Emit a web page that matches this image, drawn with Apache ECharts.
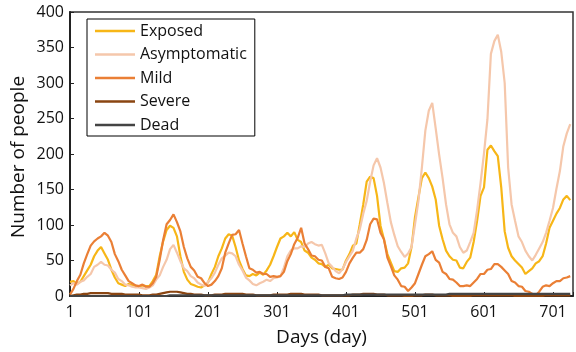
<!DOCTYPE html>
<html>
<head>
<meta charset="utf-8">
<script src="https://cdn.jsdelivr.net/npm/echarts@6/dist/echarts.min.js"></script>
<style>
html,body{margin:0;padding:0;background:#fff;}
#chart{width:576px;height:352px;}
</style>
</head>
<body>
<div id="chart"></div>
<script>
// Days sampled every 5 days (day 1, 6, 11, ..., 726)
const days = [];
for (let d = 1; d <= 726; d += 5) days.push(d);

const seriesNames = ['Exposed', 'Asymptomatic', 'Mild', 'Severe', 'Dead'];
const xTickLabels = ['1', '101', '201', '301', '401', '501', '601', '701'];
const yTickLabels = ['0', '50', '100', '150', '200', '250', '300', '350', '400'];
const xTitle = 'Days (day)';
const yTitle = 'Number of people';

const exposed = [
  20, 21, 17, 20, 28, 36, 44, 56, 64, 69,
  60, 51, 37, 26, 18, 16, 14, 17, 15, 14,
  13, 15, 14, 14, 21, 30, 56, 77, 93, 99,
  96, 84, 56, 34, 23, 17, 15, 13, 12, 15,
  19, 31, 41, 56, 67, 81, 87, 85, 69, 50,
  38, 29, 28, 31, 29, 33, 30, 36, 44, 56,
  69, 81, 84, 89, 84, 90, 79, 76, 64, 61,
  54, 51, 46, 45, 41, 44, 39, 38, 37, 37,
  50, 59, 71, 74, 101, 129, 161, 168, 166, 141,
  99, 80, 59, 47, 35, 34, 39, 40, 46, 69,
  111, 139, 166, 174, 166, 154, 136, 99, 80, 64,
  56, 51, 50, 40, 39, 48, 54, 76, 106, 141,
  153, 206, 212, 204, 197, 153, 91, 68, 56, 50,
  45, 40, 31, 35, 39, 46, 49, 56, 74, 96,
  106, 116, 124, 136, 141, 135
];

const asymptomatic = [
  15, 18, 16, 20, 22, 27, 31, 41, 44, 48,
  44, 43, 37, 33, 24, 21, 16, 15, 13, 12,
  12, 11, 10, 12, 15, 23, 29, 41, 51, 66,
  72, 61, 49, 39, 35, 28, 25, 19, 16, 14,
  20, 25, 33, 44, 53, 57, 61, 60, 56, 44,
  36, 26, 22, 17, 15, 18, 20, 23, 21, 25,
  26, 28, 40, 56, 64, 67, 67, 70, 69, 74,
  76, 73, 71, 72, 60, 46, 41, 35, 32, 38,
  48, 56, 64, 81, 94, 116, 134, 161, 184, 194,
  181, 159, 131, 104, 86, 70, 62, 55, 60, 69,
  101, 134, 181, 233, 261, 272, 236, 199, 166, 129,
  101, 89, 84, 69, 61, 64, 76, 89, 121, 159,
  201, 249, 341, 359, 368, 344, 300, 181, 129, 106,
  84, 76, 64, 56, 50, 58, 67, 76, 89, 106,
  124, 151, 176, 211, 229, 242
];

const mild = [
  2, 10, 21, 30, 46, 59, 71, 77, 81, 84,
  89, 85, 76, 59, 49, 37, 29, 21, 18, 15,
  14, 16, 13, 13, 18, 27, 51, 79, 101, 107,
  115, 104, 91, 69, 53, 41, 36, 27, 25, 18,
  14, 16, 21, 28, 39, 61, 74, 86, 87, 93,
  74, 56, 39, 37, 33, 34, 31, 31, 27, 28,
  27, 28, 34, 49, 59, 73, 82, 96, 74, 66,
  57, 56, 51, 50, 41, 39, 27, 25, 24, 26,
  34, 46, 54, 61, 61, 66, 79, 101, 109, 108,
  89, 80, 54, 42, 29, 23, 14, 13, 7, 12,
  18, 31, 44, 56, 59, 63, 51, 47, 34, 31,
  24, 23, 19, 14, 14, 15, 14, 19, 24, 31,
  31, 37, 38, 45, 45, 41, 36, 31, 21, 19,
  14, 13, 7, 6, 3, 1, 6, 13, 15, 14,
  18, 21, 21, 25, 26, 28
];

const severe = [
  0, 1, 2, 2, 3, 3, 4, 4, 4, 4,
  4, 4, 3, 3, 3, 3, 2, 2, 2, 2,
  2, 1, 1, 1, 2, 2, 3, 4, 5, 6,
  6, 6, 5, 4, 3, 3, 2, 2, 2, 1,
  1, 1, 2, 2, 2, 3, 3, 3, 3, 3,
  3, 2, 2, 2, 1, 1, 1, 1, 1, 2,
  2, 2, 2, 2, 3, 3, 3, 3, 2, 2,
  2, 2, 2, 1, 1, 1, 1, 1, 1, 1,
  1, 1, 2, 2, 2, 3, 3, 3, 3, 2,
  2, 2, 1, 1, 1, 1, 1, 0, 0, 0,
  1, 1, 1, 2, 2, 2, 1, 1, 1, 1,
  1, 0, 0, 0, 0, 0, 0, 1, 1, 1,
  1, 1, 1, 1, 1, 1, 1, 1, 1, 0,
  0, 0, 0, 0, 0, 0, 0, 0, 1, 1,
  1, 1, 1, 1, 1, 1
];

const dead = [
  0, 0, 0, 0, 0, 0, 0, 0, 0, 0,
  0, 0, 0, 0, 0, 0, 0, 0, 0, 0,
  0, 0, 0, 0, 0, 0, 0, 0, 0, 1,
  1, 1, 1, 1, 1, 1, 1, 1, 1, 1,
  1, 1, 1, 1, 1, 1, 1, 1, 1, 1,
  1, 1, 1, 1, 1, 1, 1, 1, 1, 1,
  1, 1, 1, 1, 1, 1, 1, 1, 1, 1,
  1, 1, 1, 1, 1, 1, 1, 1, 1, 1,
  2, 2, 2, 2, 2, 2, 2, 2, 2, 2,
  2, 2, 2, 2, 2, 2, 2, 2, 2, 2,
  2, 2, 2, 2, 2, 2, 2, 2, 2, 2,
  3, 3, 3, 3, 3, 3, 3, 3, 3, 3,
  3, 3, 3, 3, 3, 3, 3, 3, 3, 3,
  3, 3, 3, 3, 3, 3, 3, 3, 3, 3,
  3, 3, 3, 3, 3, 3
];

const colors = ['#F7B617', '#F5C7AB', '#EA7F35', '#8A4511', '#444444'];
const valuesList = [exposed, asymptomatic, mild, severe, dead];
const FONT = '"Open Sans", "Noto Sans", sans-serif';

const chart = echarts.init(document.getElementById('chart'), null, {renderer: 'canvas'});
chart.setOption({
  animation: false,
  backgroundColor: '#fff',
  grid: {left: 70, right: 1, top: 12, bottom: 56, show: true, borderColor: '#333', borderWidth: 1.5, backgroundColor: 'transparent'},
  legend: {
    orient: 'vertical', left: 87, top: 19,
    padding: [4, 8, 3, 8],
    itemWidth: 40, itemHeight: 2.5, itemGap: 7.5,
    backgroundColor: '#fff', borderColor: '#000', borderWidth: 1, borderRadius: 0,
    textStyle: {fontFamily: FONT, fontSize: 16, color: '#111', lineHeight: 16},
    data: seriesNames.map(n => ({name: n, icon: 'rect'}))
  },
  graphic: [{
    type: 'text', x: 19, y: 157, rotation: Math.PI / 2,
    style: {text: yTitle, fontFamily: FONT, fontSize: 19, fill: '#111', align: 'center', verticalAlign: 'middle'}
  }],
  xAxis: {
    type: 'value', min: 0, max: 729, interval: 100,
    name: xTitle, nameLocation: 'middle', nameGap: 32,
    nameTextStyle: {fontFamily: FONT, fontSize: 19, color: '#111'},
    axisLine: {show: true, lineStyle: {color: '#222', width: 2}},
    axisTick: {show: true, inside: true, length: 4, lineStyle: {color: '#222', width: 1}},
    splitLine: {show: false},
    axisLabel: {fontFamily: FONT, fontSize: 16, color: '#111', margin: 8,
      formatter: v => (v % 100 === 0 ? xTickLabels[v / 100] : '')}
  },
  yAxis: {
    type: 'value', min: 0, max: 400, interval: 50,
    axisLine: {show: true, lineStyle: {color: '#222', width: 2}},
    axisTick: {show: true, inside: true, length: 4, lineStyle: {color: '#222', width: 1}},
    splitLine: {show: false},
    axisLabel: {fontFamily: FONT, fontSize: 16, color: '#111', margin: 6,
      formatter: v => yTickLabels[v / 50]}
  },
  series: seriesNames.map((name, k) => ({
    name: name, type: 'line', symbol: 'none', showSymbol: false,
    color: colors[k],
    lineStyle: {color: colors[k], width: 2.2},
    data: days.map((d, i) => [d - 1, valuesList[k][i]])
  }))
});
</script>
</body>
</html>
